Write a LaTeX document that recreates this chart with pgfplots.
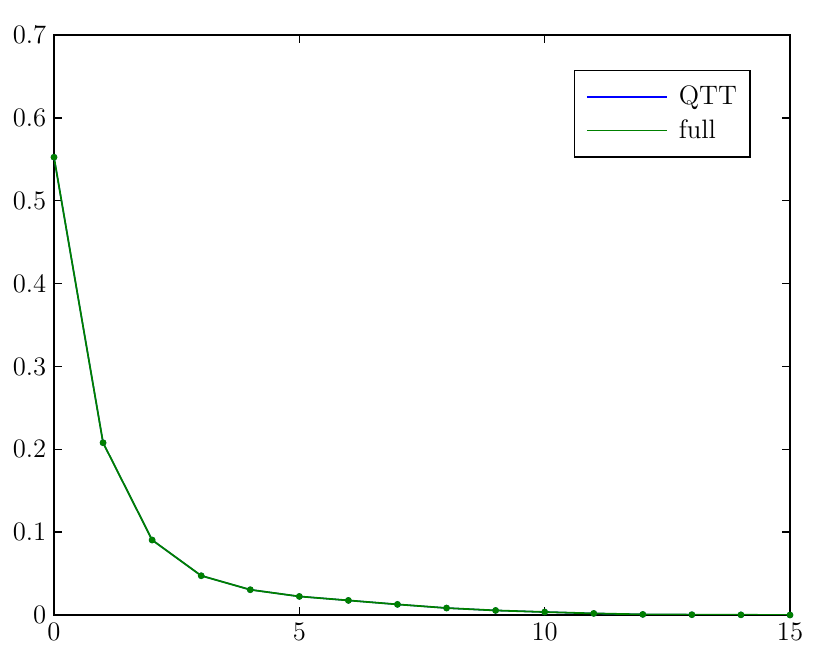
\documentclass[border=0pt]{standalone}
\usepackage{pgfplots}
\pgfplotsset{compat=1.18}
\definecolor{mblue}{RGB}{0,0,255}
\definecolor{mgreen}{RGB}{0,128,0}
\begin{document}
\begin{tikzpicture}
\begin{axis}[
  scale only axis,
  width=331.2pt, height=261pt,
  xmin=0, xmax=15, ymin=0, ymax=0.7,
  xtick={0,5,10,15},
  ytick={0,0.1,0.2,0.3,0.4,0.5,0.6,0.7},
  yticklabel style={/pgf/number format/fixed,/pgf/number format/precision=1},
  tick label style={font=\large},
  tick align=inside,
  major tick length=3.6pt,
  tick style={black, line width=0.6pt},
  axis line style={line width=0.7pt},
  legend style={at={(0.947,0.94)}, anchor=north east, draw=black, line width=0.7pt,
    inner xsep=2pt, inner ysep=5pt, row sep=1pt, font=\large,
    nodes={inner xsep=4pt}},
  legend cell align=left,
  legend image code/.code={\path[draw=none] (0pt,0pt) -- (40.9pt,0pt);\draw[#1, line width=0.8pt] (3.5pt,0pt) -- (39.5pt,0pt);},
]
\addplot[mblue, line width=0.6pt, mark=*, mark size=1.1pt] coordinates {
(0,0.5525) (1,0.2079) (2,0.0905) (3,0.0474) (4,0.0305) (5,0.0224) (6,0.0176) (7,0.0128)
(8,0.0084) (9,0.0055) (10,0.0036) (11,0.0019) (12,0.0007) (13,0.0004) (14,0.0002) (15,0.0)
};
\addlegendentry{QTT}
\addplot[mgreen, line width=0.8pt, mark=*, mark size=1.1pt] coordinates {
(0,0.5525) (1,0.2079) (2,0.0905) (3,0.0474) (4,0.0305) (5,0.0224) (6,0.0176) (7,0.0128)
(8,0.0084) (9,0.0055) (10,0.0036) (11,0.0019) (12,0.0007) (13,0.0004) (14,0.0002) (15,0.0)
};
\addlegendentry{full}
\end{axis}
\pgfresetboundingbox
\path ([xshift=-24.3pt, yshift=-19.35pt]current axis.south west) rectangle ([xshift=18pt, yshift=15.75pt]current axis.north east);
\end{tikzpicture}
\end{document}
